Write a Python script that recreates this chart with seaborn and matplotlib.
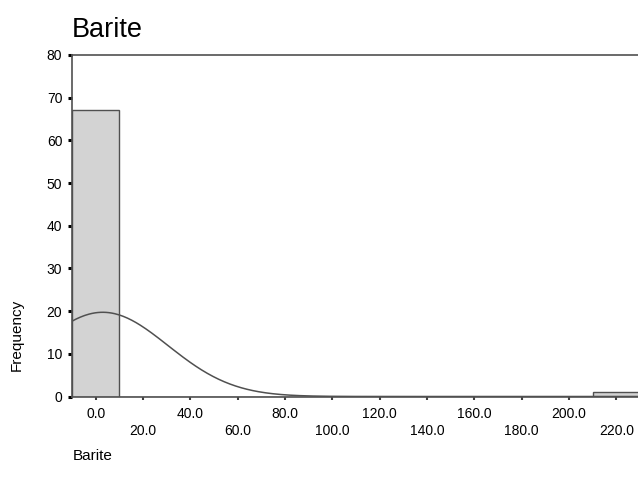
import numpy as np
import pandas as pd
import matplotlib
matplotlib.use("Agg")
import matplotlib.pyplot as plt
import seaborn as sns

# Histogram of Barite (bin width 20) with a fitted normal curve
bin_centers = [0, 20, 40, 60, 80, 100, 120, 140, 160, 180, 200, 220]
counts = [67, 0, 0, 0, 0, 0, 0, 0, 0, 0, 0, 1]
bin_width = 20
fit_mean = 3.0
fit_sd = 27.5
n_cases = 68

major_ticks = [0, 40, 80, 120, 160, 200]
minor_ticks = [20, 60, 100, 140, 180, 220]
y_ticks = [0, 10, 20, 30, 40, 50, 60, 70, 80]

sns.set_style("white")
plt.rcParams["font.family"] = ["Liberation Sans", "DejaVu Sans"]

fig = plt.figure(figsize=(6.38, 4.91), dpi=100)
ax = fig.add_axes([72 / 638, 1 - 396.5 / 491, 1 - 72 / 638 + 0.003, (396.5 - 55) / 491])

df = pd.DataFrame({"Barite": bin_centers, "count": counts})
edges = [c - bin_width / 2 for c in bin_centers] + [bin_centers[-1] + bin_width / 2]
sns.histplot(data=df, x="Barite", weights="count", bins=edges, ax=ax,
             color="#d3d3d3", edgecolor="#505050", linewidth=1.0, alpha=1.0)

# normal curve scaled to frequency
xs = np.linspace(edges[0], edges[-1], 400)
ys = n_cases * bin_width / (fit_sd * np.sqrt(2 * np.pi)) * np.exp(-0.5 * ((xs - fit_mean) / fit_sd) ** 2)
sns.lineplot(x=xs, y=ys, ax=ax, color="#505050", linewidth=1.1)

ax.set_xlim(edges[0], edges[-1])
ax.set_ylim(0, 80)

ax.set_yticks(y_ticks)
ax.set_yticklabels([str(v) for v in y_ticks], fontsize=10, color="black")
ax.set_xticks(major_ticks)
ax.set_xticklabels([f"{v:.1f}" for v in major_ticks], fontsize=10, color="black")
ax.set_xticks(minor_ticks, minor=True)
ax.set_xticklabels([f"{v:.1f}" for v in minor_ticks], minor=True, fontsize=10, color="black")

ax.tick_params(axis="y", which="major", direction="out", length=3, width=2.2,
               color="black", pad=4, left=True)
ax.tick_params(axis="x", which="major", direction="out", length=2.5, width=1.5,
               color="#404040", pad=5, bottom=True)
ax.tick_params(axis="x", which="minor", direction="out", length=2.5, width=1.5,
               color="#404040", pad=17, bottom=True)

for side in ["left", "bottom", "top", "right"]:
    ax.spines[side].set_visible(True)
    ax.spines[side].set_color("#505050")
    ax.spines[side].set_linewidth(1.2)

ax.set_xlabel("")
ax.set_ylabel("")

fig.text(72 / 638, 1 - 30 / 491, "Barite", fontsize=19.5, ha="left", va="center", color="black")
fig.text(17 / 638, 1 - 335 / 491, "Frequency", fontsize=11, rotation=90,
         ha="center", va="center", color="black")
fig.text(73 / 638, 1 - 456 / 491, "Barite", fontsize=11, ha="left", va="center", color="black")

fig.savefig("out.png", dpi=100)
